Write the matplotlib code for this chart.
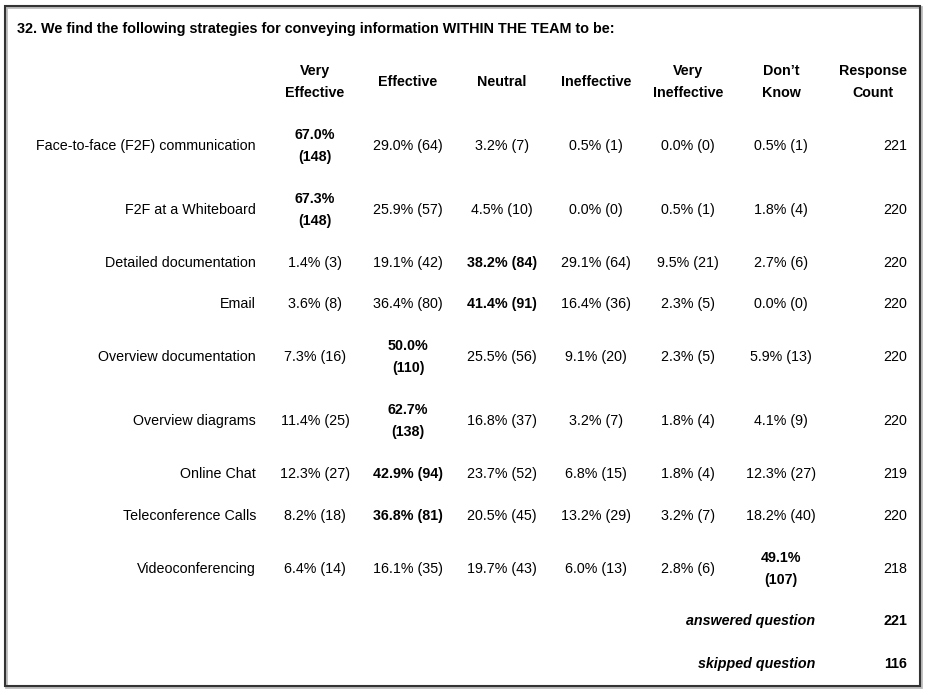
import matplotlib.pyplot as plt
from matplotlib.patches import Rectangle

# Survey table data
title = "32. We find the following strategies for conveying information WITHIN THE TEAM to be:"
headers = ["Very\nEffective", "Effective", "Neutral", "Ineffective",
           "Very\nIneffective", "Don\u2019t\nKnow", "Response\nCount"]
strategies = ["Face-to-face (F2F) communication", "F2F at a Whiteboard",
              "Detailed documentation", "Email", "Overview documentation",
              "Overview diagrams", "Online Chat", "Teleconference Calls",
              "Videoconferencing"]
percents = [
    [67.0, 29.0, 3.2, 0.5, 0.0, 0.5],
    [67.3, 25.9, 4.5, 0.0, 0.5, 1.8],
    [1.4, 19.1, 38.2, 29.1, 9.5, 2.7],
    [3.6, 36.4, 41.4, 16.4, 2.3, 0.0],
    [7.3, 50.0, 25.5, 9.1, 2.3, 5.9],
    [11.4, 62.7, 16.8, 3.2, 1.8, 4.1],
    [12.3, 42.9, 23.7, 6.8, 1.8, 12.3],
    [8.2, 36.8, 20.5, 13.2, 3.2, 18.2],
    [6.4, 16.1, 19.7, 6.0, 2.8, 49.1],
]
counts = [
    [148, 64, 7, 1, 0, 1],
    [148, 57, 10, 0, 1, 4],
    [3, 42, 84, 64, 21, 6],
    [8, 80, 91, 36, 5, 0],
    [16, 110, 56, 20, 5, 13],
    [25, 138, 37, 7, 4, 9],
    [27, 94, 52, 15, 4, 27],
    [18, 81, 45, 29, 7, 40],
    [14, 35, 43, 13, 6, 107],
]
response_count = [221, 220, 220, 220, 220, 220, 219, 220, 218]
answered = 221
skipped = 116

plt.rcParams['font.family'] = ['Liberation Sans', 'DejaVu Sans']

fig = plt.figure(figsize=(9.3, 6.96), dpi=100)
ax = fig.add_axes([0, 0, 1, 1])
ax.set_xlim(0, 930)
ax.set_ylim(696, 0)
ax.axis('off')

# frame with a faint shadow
ax.add_patch(Rectangle((6, 7), 915, 680, fill=False, edgecolor='#bbbbbb', linewidth=2))
ax.add_patch(Rectangle((5, 6), 915, 680, fill=False, edgecolor='#333333', linewidth=1.5))

fs = 10.3
ax.text(17, 29, title, fontsize=10.4, fontweight='bold', ha='left', va='center')

col_x = [315, 408, 502, 596, 688, 781, 873]
for x, h in zip(col_x, headers):
    ax.text(x, 82, h, fontsize=fs, fontweight='bold', ha='center', va='center',
            linespacing=1.65)

row_y = [146, 210, 263, 304, 357, 421, 474, 516, 569]
for i, name in enumerate(strategies):
    y = row_y[i]
    ax.text(256, y, name, fontsize=fs, ha='right', va='center')
    best = percents[i].index(max(percents[i]))
    for j in range(6):
        s = f"{percents[i][j]:.1f}% ({counts[i][j]})"
        if j == best:
            if len(s) > 10:
                s = s.replace(" ", "\n")
            ax.text(col_x[j], y, s, fontsize=fs, fontweight='bold',
                    ha='center', va='center', linespacing=1.7)
        else:
            ax.text(col_x[j], y, s, fontsize=fs, ha='center', va='center')
    ax.text(907, y, str(response_count[i]), fontsize=fs, ha='right', va='center')

ax.text(815, 621, "answered question", fontsize=fs, fontweight='bold',
        fontstyle='italic', ha='right', va='center')
ax.text(907, 621, str(answered), fontsize=fs, fontweight='bold', ha='right', va='center')
ax.text(815, 664, "skipped question", fontsize=fs, fontweight='bold',
        fontstyle='italic', ha='right', va='center')
ax.text(907, 664, str(skipped), fontsize=fs, fontweight='bold', ha='right', va='center')

fig.savefig("out.png", dpi=100)
